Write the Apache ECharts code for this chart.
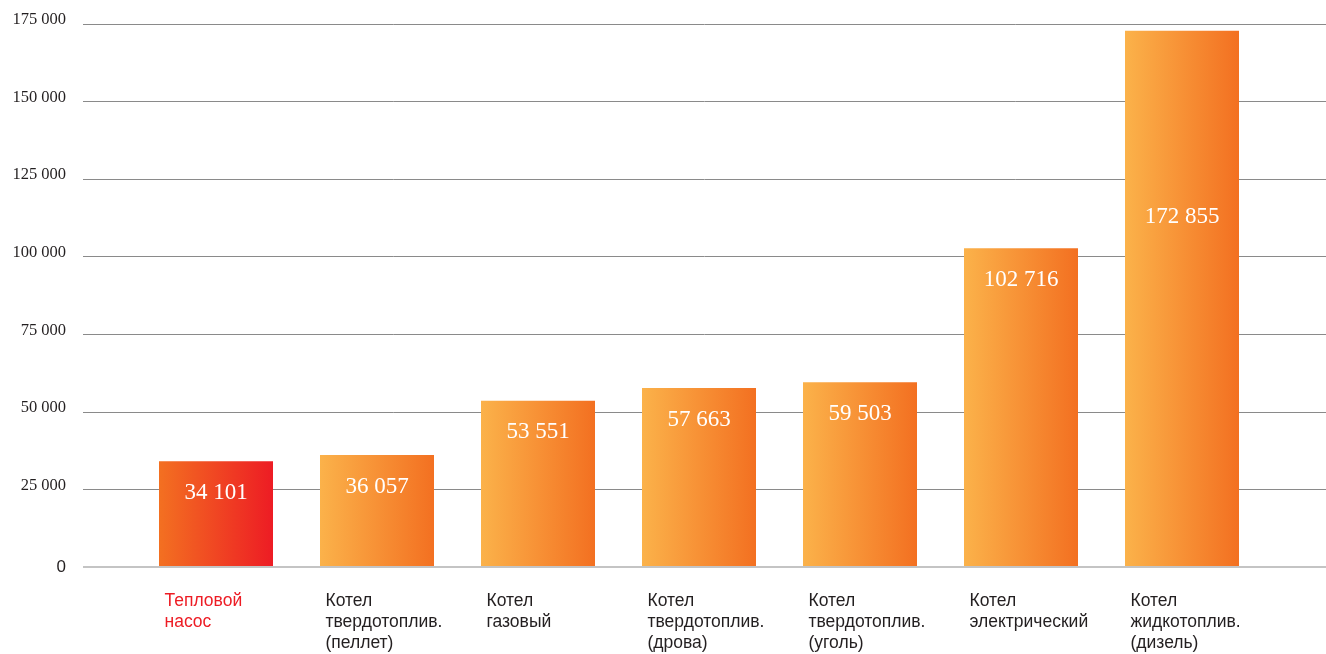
<!DOCTYPE html>
<html><head><meta charset="utf-8">
<script src="https://cdn.jsdelivr.net/npm/echarts@6/dist/echarts.min.js"></script>
<style>html,body{margin:0;padding:0;background:#fff}#c{width:1326px;height:654px}</style>
</head><body><div id="c"></div>
<script>
const categories = ['Тепловой\nнасос','Котел\nтвердотоплив.\n(пеллет)','Котел\nгазовый','Котел\nтвердотоплив.\n(дрова)','Котел\nтвердотоплив.\n(уголь)','Котел\nэлектрический','Котел\nжидкотоплив.\n(дизель)'];
const values = [34101, 36057, 53551, 57663, 59503, 102716, 172855];
const yTicks = [0, 25000, 50000, 75000, 100000, 125000, 150000, 175000];

const fmt = v => String(v).replace(/\B(?=(\d{3})+(?!\d))/g, ' ');
const grad = (a, b) => new echarts.graphic.LinearGradient(0, 0, 1, 0, [{offset: 0, color: a}, {offset: 1, color: b}]);

const data = values.map((v, i) => ({
  value: v,
  itemStyle: {color: i === 0 ? grad('#f37021', '#ed1c24') : grad('#fbb24a', '#f37021')},
  label: i === values.length - 1 ? {offset: [0, 155]} : {}
}));

const chart = echarts.init(document.getElementById('c'), null, {renderer: 'canvas'});
const yMax = yTicks[yTicks.length - 1];
chart.setOption({
  animation: false,
  grid: [
    {left: 83, right: 0, top: 24, bottom: 87, containLabel: false},
    {left: 135.5, right: 63.5, top: 24, bottom: 87, containLabel: false},
    {left: 84, right: 115, top: 24, bottom: 87, containLabel: false}
  ],
  xAxis: [
    {gridIndex: 0, type: 'category', data: categories, show: false},
    {gridIndex: 1, type: 'category', data: categories, show: false},
    {gridIndex: 2, type: 'category', data: categories, axisLine: {show: false}, axisTick: {show: false},
     axisLabel: {interval: 0, align: 'left', margin: 27, fontFamily: 'Liberation Sans, Arial, sans-serif', fontSize: 17.5, lineHeight: 21, verticalAlign: 'top',
       color: (v, i) => i === 0 ? '#ed1c24' : '#231f20'}}
  ],
  yAxis: [
    {gridIndex: 0, type: 'value', min: 0, max: yMax, interval: 25000,
     axisLine: {show: false}, axisTick: {show: false},
     splitLine: {lineStyle: {color: '#8a8a8a', width: 1}},
     axisLabel: {margin: 17, fontFamily: 'Liberation Serif, Times New Roman, serif', fontSize: 16.5, color: '#231f20', padding: [0, 0, 8, 0],
       formatter: v => v === 0 ? '{z|0}' : fmt(v),
       rich: {z: {fontFamily: 'Liberation Sans, Arial, sans-serif', fontSize: 17, color: '#231f20', padding: [8, 0, 0, 0]}}}},
    {gridIndex: 1, type: 'value', min: 0, max: yMax, interval: 25000, show: false, splitLine: {show: false}},
    {gridIndex: 2, type: 'value', min: 0, max: yMax, interval: 25000, show: false, splitLine: {show: false}}
  ],
  series: [
    {type: 'line', xAxisIndex: 0, yAxisIndex: 0, data: [], silent: true,
     markLine: {silent: true, symbol: 'none', label: {show: false}, lineStyle: {color: '#c4c4c4', width: 2, type: 'solid'}, data: [{yAxis: 0}]}},
    {type: 'bar', xAxisIndex: 1, yAxisIndex: 1, barWidth: 114, data: data,
     label: {show: true, position: 'insideTop', distance: 20, color: '#fff', fontFamily: 'Liberation Serif, Times New Roman, serif', fontSize: 23,
       formatter: p => fmt(p.value)}}
  ]
});
</script></body></html>
